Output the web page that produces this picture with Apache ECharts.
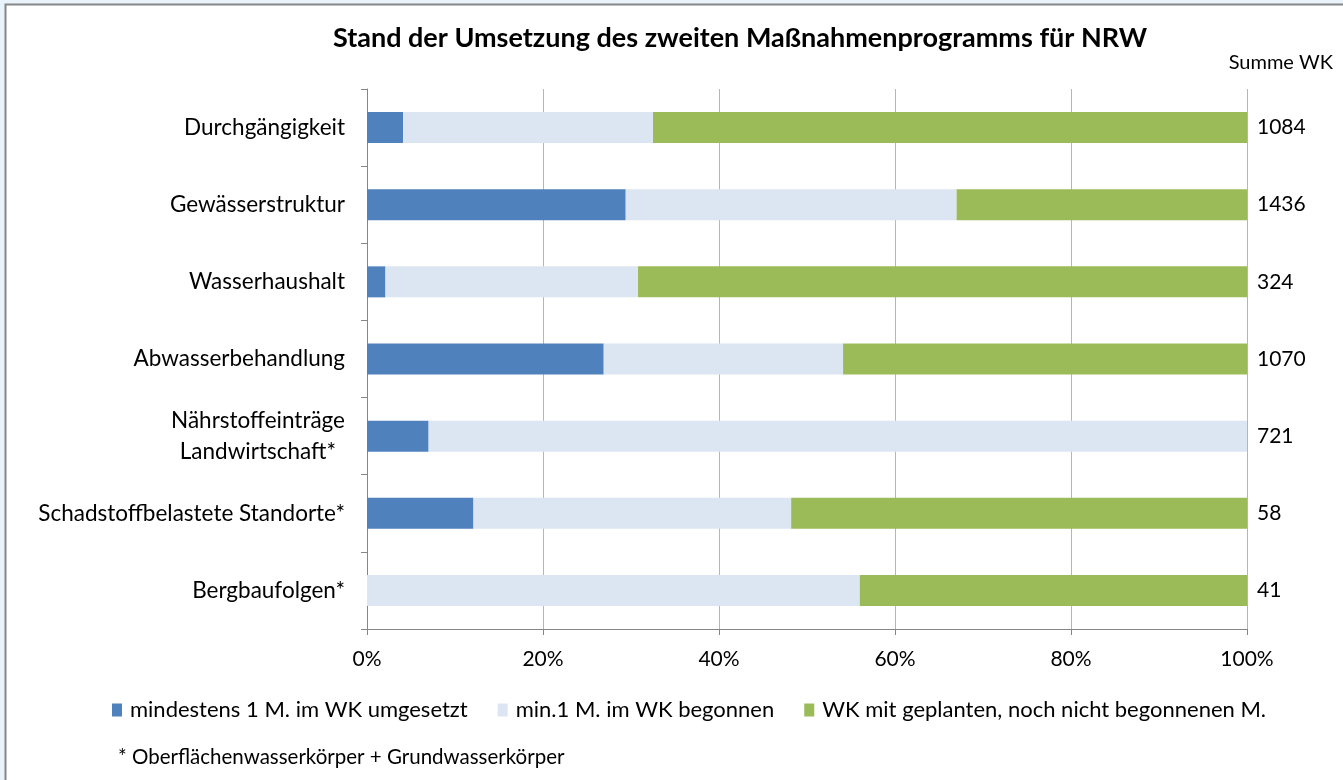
<!DOCTYPE html>
<html>
<head>
<meta charset="utf-8">
<script src="https://cdn.jsdelivr.net/npm/echarts@6/dist/echarts.min.js"></script>
<style>
  html, body { margin: 0; padding: 0; background: #e8f3fb; }
  #chart { width: 1343px; height: 780px; }
</style>
</head>
<body>
<div id="chart"></div>
<script>
var categories = [
    'Durchgängigkeit',
    'Gewässerstruktur',
    'Wasserhaushalt',
    'Abwasserbehandlung',
    'Nährstoffeinträge\nLandwirtschaft*',
    'Schadstoffbelastete Standorte*',
    'Bergbaufolgen*'
];
var summeWK = [1084, 1436, 324, 1070, 721, 58, 41];
var umgesetzt = [4.1, 29.4, 2.1, 26.9, 7.0, 12.1, 0];
var begonnen = [28.4, 37.6, 28.7, 27.2, 93.0, 36.1, 56.0];
var geplant = [67.5, 33.0, 69.2, 45.9, 0, 51.8, 44.0];
var seriesNames = [
    'mindestens 1 M. im WK umgesetzt',
    'min.1 M. im WK begonnen',
    'WK mit geplanten, noch nicht begonnenen M.'
];
var xTicks = [0, 20, 40, 60, 80, 100];

var font = 'Lato, "Open Sans", sans-serif';
var fs = 21;
var catFs = 22.5;
var dom = document.getElementById('chart');
var myChart = echarts.init(dom);

var option = {
    backgroundColor: 'transparent',
    animation: false,
    textStyle: { fontFamily: font, color: '#000' },
    graphic: [
        {
            type: 'rect',
            shape: { x: 5.5, y: 4.5, width: 1400, height: 800 },
            style: { fill: '#fff', stroke: '#868686', lineWidth: 2 },
            z: -10
        },
        {
            type: 'text',
            left: 118,
            top: 747,
            style: {
                text: '* Oberflächenwasserkörper + Grundwasserkörper',
                font: '20.5px ' + font,
                fill: '#000'
            }
        },
        {
            type: 'text',
            right: 10,
            top: 53,
            style: {
                text: 'Summe WK',
                font: '20px ' + font,
                fill: '#000'
            }
        }
    ],
    title: {
        text: 'Stand der Umsetzung des zweiten Maßnahmenprogramms für NRW',
        left: 735,
        top: 20,
        textAlign: 'center',
        textStyle: { fontFamily: font, fontSize: 27, fontWeight: 'bold', color: '#000' }
    },
    legend: {
        top: 694,
        left: 107,
        itemWidth: 10,
        itemHeight: 13,
        itemGap: 30,
        icon: 'rect',
        textStyle: { fontFamily: font, fontSize: 22, color: '#000', padding: [0, 0, 0, 3] },
        data: seriesNames
    },
    grid: { left: 367, right: 96, top: 89, bottom: 151, containLabel: false },
    xAxis: {
        type: 'value',
        min: 0,
        max: 100,
        interval: 20,
        axisLine: { show: true, lineStyle: { color: '#868686', width: 1 } },
        axisTick: { show: true, length: 6, lineStyle: { color: '#868686' } },
        splitLine: { show: true, lineStyle: { color: '#b5b5b5', width: 1 } },
        axisLabel: {
            margin: 20,
            fontSize: fs,
            fontFamily: font,
            color: '#000',
            formatter: function (v) { return xTicks.indexOf(v) >= 0 ? v + '%' : ''; }
        }
    },
    yAxis: [
        {
            type: 'category',
            inverse: true,
            data: categories,
            axisLine: { show: true, lineStyle: { color: '#868686' } },
            axisTick: { show: true, length: 6, lineStyle: { color: '#868686' } },
            splitLine: { show: false },
            axisLabel: {
                margin: 22,
                fontSize: catFs,
                fontFamily: font,
                color: '#000',
                lineHeight: 31,
                formatter: function (v) {
                    var parts = v.split('\n');
                    if (parts.length > 1) {
                        return '{a|' + parts[0] + '}\n{b|' + parts[1] + '}';
                    }
                    return v;
                },
                rich: {
                    a: { fontSize: catFs, fontFamily: font, color: '#000', lineHeight: 31 },
                    b: { fontSize: catFs, fontFamily: font, color: '#000', lineHeight: 31, padding: [0, 9, 0, 0] }
                }
            }
        },
        {
            type: 'category',
            inverse: true,
            position: 'right',
            data: summeWK,
            axisLine: { show: false },
            axisTick: { show: false },
            splitLine: { show: false },
            axisLabel: {
                margin: 10,
                align: 'left',
                fontSize: fs,
                fontFamily: font,
                color: '#000'
            }
        }
    ],
    series: [
        {
            name: seriesNames[0],
            type: 'bar',
            stack: 'total',
            barWidth: 31,
            itemStyle: { color: '#4f81bd' },
            data: umgesetzt
        },
        {
            name: seriesNames[1],
            type: 'bar',
            stack: 'total',
            barWidth: 31,
            itemStyle: { color: '#dce6f2' },
            data: begonnen
        },
        {
            name: seriesNames[2],
            type: 'bar',
            stack: 'total',
            barWidth: 31,
            itemStyle: { color: '#9bbb59' },
            data: geplant
        }
    ]
};

if (option && typeof option === 'object') {
    myChart.setOption(option, true);
}
</script>
</body>
</html>
